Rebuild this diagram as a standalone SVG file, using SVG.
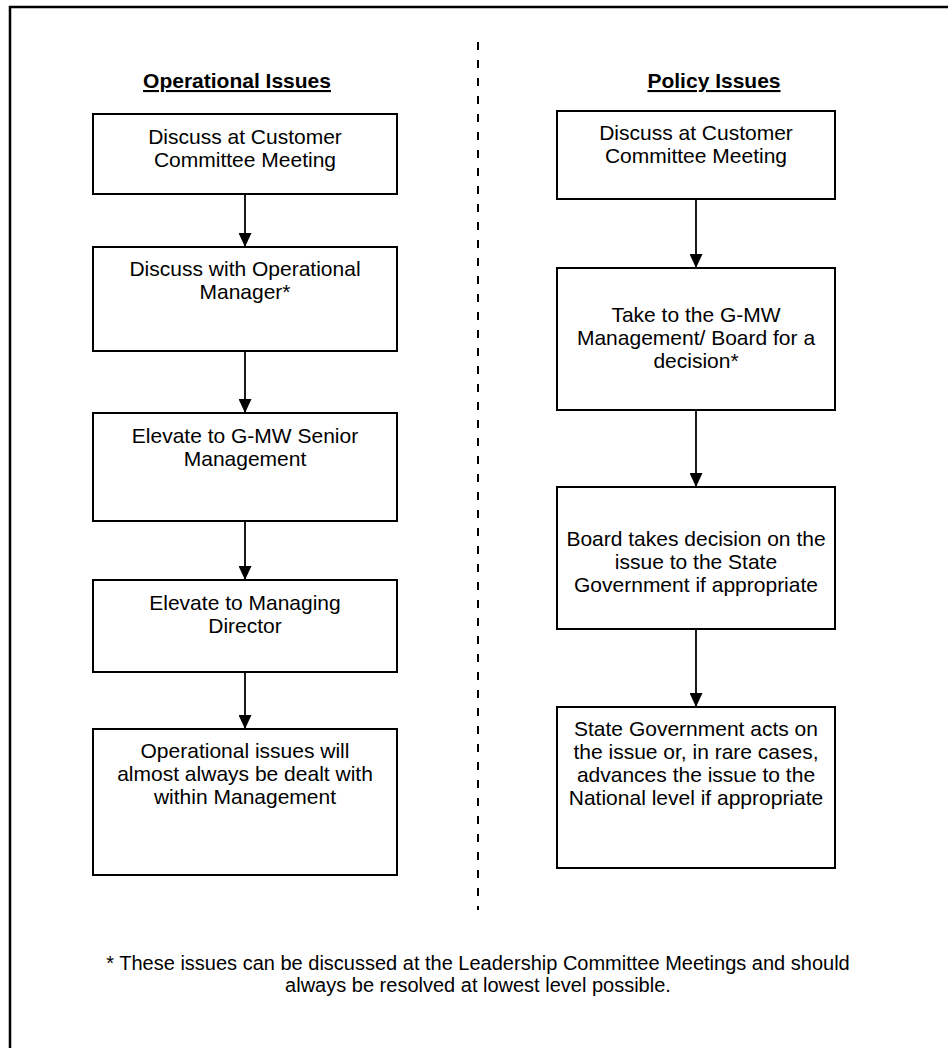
<svg xmlns="http://www.w3.org/2000/svg" width="948" height="1048" viewBox="0 0 948 1048">
<defs>
<marker id="arr" markerWidth="14" markerHeight="13" refX="10" refY="5" orient="auto" markerUnits="userSpaceOnUse" viewBox="0 0 10 10" preserveAspectRatio="none">
<path d="M0,0 L10,5 L0,10 Z" fill="#000"/>
</marker>
<style>
text{font-family:"Liberation Sans",Arial,sans-serif;font-size:21px;fill:#000;text-anchor:middle}
.hd{font-weight:bold;text-decoration:underline}
.ft{font-size:20px}
.box{fill:#fff;stroke:#000;stroke-width:2}
.con{stroke:#000;stroke-width:1.8;fill:none;marker-end:url(#arr)}
</style>
</defs>
<rect width="948" height="1048" fill="#fff"/>
<path d="M10,1050 V7 H950" fill="none" stroke="#000" stroke-width="2.5"/>
<line x1="478" y1="42" x2="478" y2="910" stroke="#000" stroke-width="2" stroke-dasharray="8 10"/>
<text class="hd" x="237" y="88">Operational Issues</text>
<text class="hd" x="714" y="88">Policy Issues</text>
<g id="connectors">
<line class="con" x1="245" y1="194" x2="245" y2="247"/>
<line class="con" x1="245" y1="351" x2="245" y2="413"/>
<line class="con" x1="245" y1="521" x2="245" y2="580"/>
<line class="con" x1="245" y1="672" x2="245" y2="729"/>
<line class="con" x1="696" y1="199" x2="696" y2="268"/>
<line class="con" x1="696" y1="410" x2="696" y2="487"/>
<line class="con" x1="696" y1="629" x2="696" y2="707"/>
</g>
<g id="op1"><rect class="box" x="93" y="114" width="304" height="80"/><text x="245" y="144">Discuss at Customer</text><text x="245" y="167">Committee Meeting</text></g>
<g id="op2"><rect class="box" x="93" y="247" width="304" height="104"/><text x="245" y="276">Discuss with Operational</text><text x="245" y="299">Manager*</text></g>
<g id="op3"><rect class="box" x="93" y="413" width="304" height="108"/><text x="245" y="443">Elevate to G-MW Senior</text><text x="245" y="466">Management</text></g>
<g id="op4"><rect class="box" x="93" y="580" width="304" height="92"/><text x="245" y="610">Elevate to Managing</text><text x="245" y="633">Director</text></g>
<g id="op5"><rect class="box" x="93" y="729" width="304" height="146"/><text x="245" y="758">Operational issues will</text><text x="245" y="781">almost always be dealt with</text><text x="245" y="804">within Management</text></g>
<g id="po1"><rect class="box" x="557" y="111" width="278" height="88"/><text x="696" y="140">Discuss at Customer</text><text x="696" y="163">Committee Meeting</text></g>
<g id="po2"><rect class="box" x="557" y="268" width="278" height="142"/><text x="696" y="322">Take to the G-MW</text><text x="696" y="345">Management/ Board for a</text><text x="696" y="368">decision*</text></g>
<g id="po3"><rect class="box" x="557" y="487" width="278" height="142"/><text x="696" y="546">Board takes decision on the</text><text x="696" y="569">issue to the State</text><text x="696" y="592">Government if appropriate</text></g>
<g id="po4"><rect class="box" x="557" y="707" width="278" height="161"/><text x="696" y="736">State Government acts on</text><text x="696" y="759">the issue or, in rare cases,</text><text x="696" y="782">advances the issue to the</text><text x="696" y="805">National level if appropriate</text></g>
<g id="note"><text class="ft" x="478" y="970">* These issues can be discussed at the Leadership Committee Meetings and should</text><text class="ft" x="478" y="992">always be resolved at lowest level possible.</text></g>
</svg>
